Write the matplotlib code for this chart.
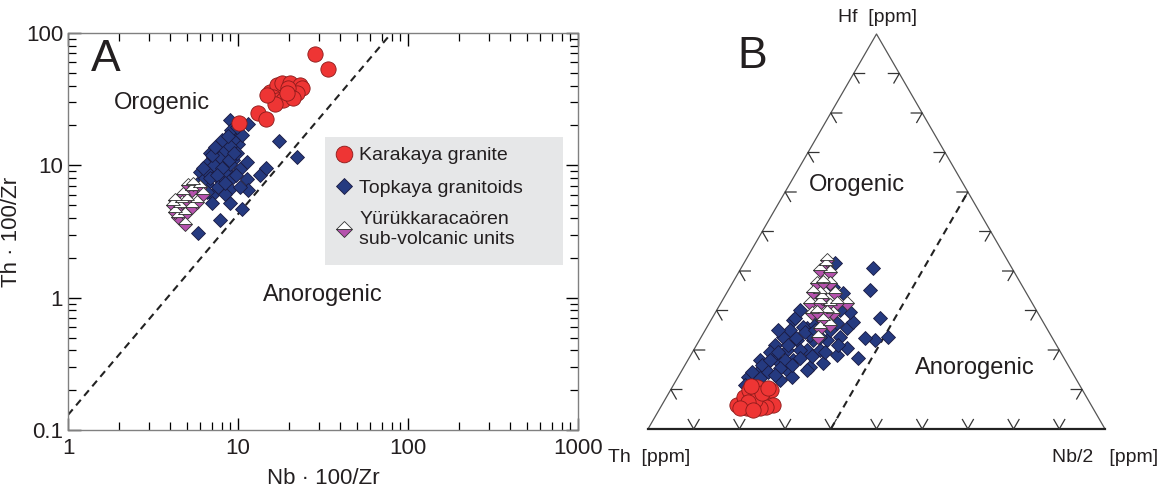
import numpy as np
import matplotlib
matplotlib.use("Agg")
import matplotlib.pyplot as plt
from matplotlib.lines import Line2D
from matplotlib.patches import Rectangle

plt.rcParams["font.family"] = ["Liberation Sans", "DejaVu Sans"]

# ---- panel A: Nb*100/Zr vs Th*100/Zr ----
kar_nb = [28.4, 33.7, 10.2, 13.1, 14.6, 15.4, 16.9, 18.1, 20.2, 23.2, 23.7, 22.2, 19.8,
          16.1, 17.3, 18.5, 16.5, 14.8, 21.2, 19.3]
kar_th = [69.0, 53.4, 20.9, 24.7, 22.2, 35.9, 40.4, 41.6, 41.6, 40.4, 38.1, 34.9, 38.1,
          32.9, 31.0, 31.0, 29.3, 33.9, 32.0, 34.9]

top_nb = [8.97, 9.38, 8.58, 10.0, 7.83, 7.49, 8.58, 6.84, 9.38, 7.83, 6.54, 11.3, 10.3,
          8.58, 7.16, 5.98, 9.38, 7.83, 6.54, 11.3, 13.5, 14.6, 11.5, 8.97, 7.0, 7.0,
          8.97, 10.6, 7.83, 5.85, 6.25, 5.71, 7.16, 8.2, 9.83, 7.49, 8.97, 11.5, 17.5,
          22.2, 10.3, 8.39, 10.5, 9.38,
          6.5, 7.2, 7.8, 8.4, 9.0, 8.0, 6.8, 7.5, 8.9, 9.5, 6.2, 7.0, 8.1, 9.1, 9.8,
          7.6, 8.4, 9.7, 6.0, 6.6, 8.7, 7.3]
top_th = [21.9, 17.4, 16.4, 14.6, 14.6, 13.0, 12.3, 12.3, 10.9, 10.3, 10.3, 10.6, 9.44,
          8.9, 8.65, 8.9, 8.15, 7.69, 7.26, 7.93, 8.4, 9.6, 6.47, 6.66, 5.93, 5.2,
          5.2, 4.7, 3.84, 3.1, 7.69, 7.26, 11.6, 13.8, 12.3, 9.71, 10.3, 20.7, 15.3,
          11.6, 6.85, 6.1, 16.9, 15.5,
          9.0, 10.0, 11.5, 13.0, 14.0, 9.5, 8.0, 8.5, 11.0, 12.5, 9.5, 12.0, 15.5, 18.5,
          19.5, 6.8, 7.3, 8.5, 6.7, 6.3, 16.8, 13.8]

yur_nb = [5.46, 5.34, 6.25, 4.77, 4.26, 4.99, 5.71, 4.56, 5.34, 4.26, 4.88, 4.45, 4.88,
          5.98, 5.1, 4.67, 4.16]
yur_th = [7.26, 6.47, 6.1, 6.1, 5.43, 5.43, 5.27, 4.83, 4.83, 4.43, 4.30, 4.06, 3.61,
          6.85, 7.05, 5.27, 4.98]

# orogenic / anorogenic boundary
bound_nb = [1.0, 80.0]
bound_th = [0.13, 100.0]

# ---- panel B: ternary Th - Nb/2 - Hf (percent) ----
kar_t_nb = [16.5, 17, 17, 18.6, 21.6, 22, 24.4, 23, 21.8, 19, 19.8, 18.5, 20.4, 17.5,
            20.6, 17, 21]
kar_t_hf = [6, 8, 10, 10.6, 8, 10, 6, 5.6, 5.3, 5.3, 7.3, 6.8, 9, 5.3, 4.8, 11, 10.4]

top_t_nb = [28.9, 31.0, 36.8, 40.9, 38.5, 36.0, 36.9, 33.3, 32.0, 30.0, 27.6, 18.0, 22.0,
            21.4, 20.4, 18.3, 17.7, 20.6, 23.0, 24.8, 27.6, 28.0, 30.4, 30.7, 31.4, 29.4,
            28.0, 26.0, 24.9, 23.3, 17.9, 18.6, 27.0, 22.6, 25.5, 22.9, 27.3, 17.7, 15.3,
            16.9, 22.7, 24.9, 19.9, 21.0, 18.2, 17.2, 17.0, 21.3, 15.8, 23.5, 23.4, 18.3,
            15.9, 27.3, 24.3,
            15.6, 16.8, 18.0, 18.7, 20.0, 20.9, 22.1, 24.0, 19.1, 21.2, 23.4, 24.3, 26.7,
            29.0, 31.0, 21.0, 18.1, 15.6]
top_t_hf = [40.7, 35.1, 28.0, 23.2, 22.5, 23.0, 17.9, 20.5, 18.7, 16.7, 15.7, 27.5, 25.5,
            22.5, 20.0, 18.2, 16.7, 16.7, 17.4, 20.0, 20.0, 22.5, 23.2, 25.5, 27.0, 29.6,
            26.8, 23.2, 22.5, 20.0, 23.2, 25.0, 30.1, 35.9, 34.4, 14.9, 14.9, 14.9, 13.1,
            14.4, 12.4, 13.1, 41.9, 25.8, 28.0, 21.2, 19.5, 17.4, 17.4, 23.8, 26.3, 30.1,
            25.0, 25.0, 27.5,
            14.4, 16.2, 17.4, 19.5, 21.2, 23.0, 24.5, 25.0, 14.4, 15.4, 16.2, 17.9, 18.4,
            19.5, 21.2, 13.6, 12.9, 11.1]

yur_t_nb = [17.9, 17.5, 20.0, 18.6, 19.7, 21.4, 20.4, 19.5, 21.7, 24.1, 25.5, 27.6, 22.2,
            24.4, 25.8, 24.5, 24.8, 26.7, 25.6, 21.2, 23.7, 18.8, 18.2, 21.6]
yur_t_hf = [42.7, 40.2, 39.7, 36.9, 37.1, 36.9, 34.4, 31.8, 31.8, 31.3, 31.8, 31.8, 29.6,
            29.6, 29.3, 27.5, 25.5, 26.3, 23.2, 29.3, 34.4, 34.6, 41.4, 33.1]

# boundary: Nb/2 = 40 % from the Th-Nb/2 side to the Nb/2-Hf side
bound_t_nb = [40, 40]
bound_t_hf = [0, 60]

RED = "#ee3534"
BLUE = "#253a80"
PINK = "#b552ad"
TXT = "#231f20"


def tern(nb, hf):
    nb = np.asarray(nb, float) / 100
    hf = np.asarray(hf, float) / 100
    return nb + hf / 2, hf * np.sqrt(3) / 2


def bottom_up(x, y):
    # draw lower symbols first so the pink halves stay on top of the stack
    order = np.argsort(y)
    return np.asarray(x)[order], np.asarray(y)[order]


fig = plt.figure(figsize=(11.71, 4.95), dpi=100)

# ================= panel A =================
ax = fig.add_axes([68 / 1171, 65 / 495, 510 / 1171, 397 / 495])
ax.set_xscale("log")
ax.set_yscale("log")
ax.set_xlim(1, 1000)
ax.set_ylim(0.1, 100)

ax.plot(bound_nb, bound_th, ls=(0, (3.5, 2.5)), color="#222222", lw=1.5, zorder=2)
ax.plot(top_nb, top_th, "D", ms=7, mfc=BLUE, mec="#1a1a40", mew=0.6, ls="none", zorder=3)
px, py = bottom_up(yur_nb, yur_th)
ax.plot(px, py, "D", ms=7.5, fillstyle="bottom", mfc=PINK, mfcalt="white",
        mec="#333333", mew=0.6, ls="none", zorder=4)
ax.plot(kar_nb, kar_th, "o", ms=11, mfc=RED, mec="#8a1a1a", mew=0.6, ls="none", zorder=5)

for s in ax.spines.values():
    s.set_color("#808080")
    s.set_linewidth(1.0)
ax.tick_params(which="both", direction="in", top=True, right=True, colors="black",
               labelcolor=TXT, labelsize=16)
ax.tick_params(which="major", length=9, width=1.0)
ax.tick_params(which="minor", length=5.5, width=0.9)
ax.set_xticks([1, 10, 100, 1000])
ax.set_xticklabels(["1", "10", "100", "1000"])
ax.set_yticks([0.1, 1, 10, 100])
ax.set_yticklabels(["0.1", "1", "10", "100"])
ax.tick_params(axis="x", pad=6)
ax.set_xlabel("Nb · 100/Zr", fontsize=16, color=TXT, labelpad=6)
ax.set_ylabel("Th · 100/Zr", fontsize=16, color=TXT)
ax.yaxis.set_label_coords(-0.09, 0.5)

ax.text(0.045, 0.985, "A", transform=ax.transAxes, fontsize=32, color=TXT, va="top")
ax.text(0.184, 0.824, "Orogenic", transform=ax.transAxes, fontsize=17, color=TXT,
        ha="center", va="center")
ax.text(0.5, 0.34, "Anorogenic", transform=ax.transAxes, fontsize=17, color=TXT,
        ha="center", va="center")

ax.add_patch(Rectangle((0.504, 0.416), 0.467, 0.322, transform=ax.transAxes,
                       facecolor="#e6e7e8", edgecolor="none", zorder=6))
handles = [
    Line2D([], [], marker="o", ms=12, mfc=RED, mec="#8a1a1a", mew=0.6, ls="none"),
    Line2D([], [], marker="D", ms=8, mfc=BLUE, mec="#1a1a40", mew=0.6, ls="none"),
    Line2D([], [], marker="D", ms=8, fillstyle="bottom", mfc=PINK, mfcalt="white",
           mec="#333333", mew=0.6, ls="none"),
]
labels = ["Karakaya granite", "Topkaya granitoids", "Yürükkaracaören\nsub-volcanic units"]
leg = ax.legend(handles, labels, loc="upper left", bbox_to_anchor=(0.504, 0.738),
                frameon=False, fontsize=14, handlelength=0.9, handletextpad=0.35,
                labelspacing=0.75, borderpad=0.5, borderaxespad=0)
leg.set_zorder(7)
for t in leg.get_texts():
    t.set_color(TXT)

# ================= panel B =================
bx = fig.add_axes([648 / 1171, 66 / 495, 457 / 1171, 395 / 495])
h = np.sqrt(3) / 2
bx.set_xlim(0, 1)
bx.set_ylim(0, h)
bx.axis("off")

bx.plot([0, 0.5, 1], [0, h, 0], color="#555555", lw=0.9, clip_on=False, zorder=1)
bx.plot([0, 1], [0, 0], color="#222222", lw=1.6, clip_on=False, zorder=1)

tl = 0.024
for k in range(1, 10):
    f = k / 10
    # bottom side: V ticks
    bx.plot([f - tl * 0.5, f, f + tl * 0.5], [tl * h, 0, tl * h], color="#333333",
            lw=0.9, clip_on=False)
    # left side
    lx, ly = f / 2, f * h
    bx.plot([lx + tl, lx, lx + tl * 0.5], [ly, ly, ly - tl * h], color="#333333",
            lw=0.9, clip_on=False)
    # right side
    rx, ry = 1 - f / 2, f * h
    bx.plot([rx - tl, rx, rx - tl * 0.5], [ry, ry, ry - tl * h], color="#333333",
            lw=0.9, clip_on=False)

bxx, byy = tern(bound_t_nb, bound_t_hf)
bx.plot(bxx, byy, ls=(0, (3.5, 2.5)), color="#222222", lw=1.5, zorder=2)

x, y = tern(top_t_nb, top_t_hf)
bx.plot(x, y, "D", ms=7, mfc=BLUE, mec="#1a1a40", mew=0.6, ls="none", zorder=3,
        clip_on=False)
x, y = bottom_up(*tern(yur_t_nb, yur_t_hf))
bx.plot(x, y, "D", ms=7.5, fillstyle="bottom", mfc=PINK, mfcalt="white", mec="#333333",
        mew=0.6, ls="none", zorder=4, clip_on=False)
x, y = tern(kar_t_nb, kar_t_hf)
bx.plot(x, y, "o", ms=11, mfc=RED, mec="#8a1a1a", mew=0.6, ls="none", zorder=5,
        clip_on=False)

fig.text(877 / 1171, 1 - 17 / 495, "Hf  [ppm]", fontsize=14, color=TXT, ha="center",
         va="center")
fig.text(608 / 1171, 1 - 458 / 495, "Th  [ppm]", fontsize=14, color=TXT, ha="left",
         va="center")
fig.text(1052 / 1171, 1 - 458 / 495, "Nb/2   [ppm]", fontsize=14, color=TXT, ha="left",
         va="center")
fig.text(737 / 1171, 1 - 57 / 495, "B", fontsize=32, color=TXT, ha="left", va="center")
fig.text(857 / 1171, 1 - 185 / 495, "Orogenic", fontsize=17, color=TXT, ha="center",
         va="center")
fig.text(975 / 1171, 1 - 368 / 495, "Anorogenic", fontsize=17, color=TXT, ha="center",
         va="center")

fig.savefig("out.png", dpi=100)
